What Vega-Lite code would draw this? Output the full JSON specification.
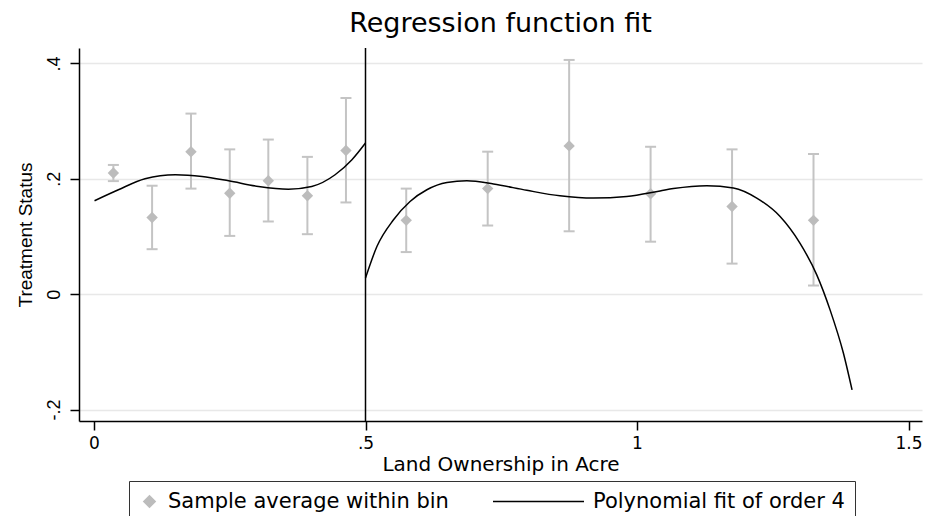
{
  "$schema": "https://vega.github.io/schema/vega-lite/v6.json",
  "width": 843,
  "height": 373,
  "autosize": {"type": "none"},
  "padding": {"left": 79, "top": 48, "right": 12, "bottom": 95},
  "background": "white",
  "title": {"text": "Regression function fit", "font": "DejaVu Sans", "fontSize": 27, "fontWeight": "normal", "color": "black", "anchor": "middle", "baseline": "alphabetic", "offset": 16, "dy": 28},
  "config": {
    "view": {"stroke": null},
    "axis": {"domainColor": "black", "domainWidth": 1.5, "tickColor": "black", "tickWidth": 1.5, "tickSize": 9, "labelColor": "black", "titleColor": "black", "titleFontWeight": "normal", "gridColor": "#e8e8e8", "gridWidth": 1.5},
    "axisX": {"grid": false, "labelFont": "DejaVu Sans", "labelFontSize": 17, "labelPadding": 5, "titleFont": "DejaVu Sans", "titleFontSize": 20, "titlePadding": 3},
    "axisY": {"grid": true, "labelAngle": -90, "labelAlign": "center", "labelBaseline": "alphabetic", "labelPadding": 11, "labelFont": "Liberation Sans", "labelFontSize": 18, "titleFont": "Liberation Sans", "titleFontSize": 19, "titlePadding": 10},
    "legend": {
      "title": null, "orient": "none", "legendX": 50, "legendY": 433, "direction": "horizontal",
      "padding": 10, "strokeColor": "#333333", "labelFont": "DejaVu Sans", "labelFontSize": 21,
      "labelColor": "black", "labelLimit": 500, "columnPadding": 43, "symbolOffset": 0, "labelOffset": 8,
      "symbolStrokeWidth": 1.5, "clipHeight": 21
    }
  },
  "datasets": {
    "bins": [
      {"x": 0.0357, "mean": 0.210, "lo": 0.196, "hi": 0.224, "series": "Sample average within bin"},
      {"x": 0.107, "mean": 0.133, "lo": 0.078, "hi": 0.188, "series": "Sample average within bin"},
      {"x": 0.1786, "mean": 0.247, "lo": 0.183, "hi": 0.313, "series": "Sample average within bin"},
      {"x": 0.25, "mean": 0.175, "lo": 0.101, "hi": 0.251, "series": "Sample average within bin"},
      {"x": 0.321, "mean": 0.1965, "lo": 0.126, "hi": 0.268, "series": "Sample average within bin"},
      {"x": 0.393, "mean": 0.1705, "lo": 0.104, "hi": 0.238, "series": "Sample average within bin"},
      {"x": 0.464, "mean": 0.249, "lo": 0.159, "hi": 0.340, "series": "Sample average within bin"},
      {"x": 0.575, "mean": 0.128, "lo": 0.073, "hi": 0.183, "series": "Sample average within bin"},
      {"x": 0.725, "mean": 0.183, "lo": 0.119, "hi": 0.247, "series": "Sample average within bin"},
      {"x": 0.875, "mean": 0.257, "lo": 0.109, "hi": 0.406, "series": "Sample average within bin"},
      {"x": 1.025, "mean": 0.174, "lo": 0.091, "hi": 0.2555, "series": "Sample average within bin"},
      {"x": 1.175, "mean": 0.152, "lo": 0.053, "hi": 0.251, "series": "Sample average within bin"},
      {"x": 1.325, "mean": 0.128, "lo": 0.015, "hi": 0.243, "series": "Sample average within bin"}
    ],
    "fit": [
      {"seg": "L", "x": 0.001, "y": 0.162, "series": "Polynomial fit of order 4"},
      {"seg": "L", "x": 0.045, "y": 0.181, "series": "Polynomial fit of order 4"},
      {"seg": "L", "x": 0.094, "y": 0.200, "series": "Polynomial fit of order 4"},
      {"seg": "L", "x": 0.150, "y": 0.207, "series": "Polynomial fit of order 4"},
      {"seg": "L", "x": 0.199, "y": 0.204, "series": "Polynomial fit of order 4"},
      {"seg": "L", "x": 0.248, "y": 0.1965, "series": "Polynomial fit of order 4"},
      {"seg": "L", "x": 0.303, "y": 0.1867, "series": "Polynomial fit of order 4"},
      {"seg": "L", "x": 0.358, "y": 0.182, "series": "Polynomial fit of order 4"},
      {"seg": "L", "x": 0.401, "y": 0.1867, "series": "Polynomial fit of order 4"},
      {"seg": "L", "x": 0.444, "y": 0.207, "series": "Polynomial fit of order 4"},
      {"seg": "L", "x": 0.475, "y": 0.233, "series": "Polynomial fit of order 4"},
      {"seg": "L", "x": 0.5, "y": 0.262, "series": "Polynomial fit of order 4"},
      {"seg": "R", "x": 0.5, "y": 0.028, "series": "Polynomial fit of order 4"},
      {"seg": "R", "x": 0.521, "y": 0.0826, "series": "Polynomial fit of order 4"},
      {"seg": "R", "x": 0.5516, "y": 0.129, "series": "Polynomial fit of order 4"},
      {"seg": "R", "x": 0.582, "y": 0.1607, "series": "Polynomial fit of order 4"},
      {"seg": "R", "x": 0.613, "y": 0.181, "series": "Polynomial fit of order 4"},
      {"seg": "R", "x": 0.650, "y": 0.1936, "series": "Polynomial fit of order 4"},
      {"seg": "R", "x": 0.6867, "y": 0.1965, "series": "Polynomial fit of order 4"},
      {"seg": "R", "x": 0.7357, "y": 0.191, "series": "Polynomial fit of order 4"},
      {"seg": "R", "x": 0.797, "y": 0.180, "series": "Polynomial fit of order 4"},
      {"seg": "R", "x": 0.858, "y": 0.1705, "series": "Polynomial fit of order 4"},
      {"seg": "R", "x": 0.9197, "y": 0.1665, "series": "Polynomial fit of order 4"},
      {"seg": "R", "x": 0.981, "y": 0.1695, "series": "Polynomial fit of order 4"},
      {"seg": "R", "x": 1.0425, "y": 0.179, "series": "Polynomial fit of order 4"},
      {"seg": "R", "x": 1.067, "y": 0.183, "series": "Polynomial fit of order 4"},
      {"seg": "R", "x": 1.1285, "y": 0.188, "series": "Polynomial fit of order 4"},
      {"seg": "R", "x": 1.1775, "y": 0.184, "series": "Polynomial fit of order 4"},
      {"seg": "R", "x": 1.2205, "y": 0.1665, "series": "Polynomial fit of order 4"},
      {"seg": "R", "x": 1.2635, "y": 0.1346, "series": "Polynomial fit of order 4"},
      {"seg": "R", "x": 1.300, "y": 0.0885, "series": "Polynomial fit of order 4"},
      {"seg": "R", "x": 1.331, "y": 0.0335, "series": "Polynomial fit of order 4"},
      {"seg": "R", "x": 1.3555, "y": -0.0272, "series": "Polynomial fit of order 4"},
      {"seg": "R", "x": 1.380, "y": -0.102, "series": "Polynomial fit of order 4"},
      {"seg": "R", "x": 1.396, "y": -0.166, "series": "Polynomial fit of order 4"}
    ],
    "cut": [{"x": 0.5}]
  },
  "layer": [
    {
      "data": {"name": "bins"},
      "mark": {"type": "rule", "color": "#c4c4c4", "strokeWidth": 2},
      "encoding": {
        "x": {"field": "x", "type": "quantitative", "title": "Land Ownership in Acre",
              "scale": {"domain": [-0.0276, 1.5248], "nice": false, "zero": false},
              "axis": {"values": [0, 0.5, 1, 1.5], "labelExpr": "datum.value == 0.5 ? '.5' : datum.value == 1.5 ? '1.5' : datum.value == 1 ? '1' : '0'"}},
        "y": {"field": "lo", "type": "quantitative", "title": "Treatment Status",
              "scale": {"domain": [-0.2198, 0.4267], "nice": false, "zero": false},
              "axis": {"values": [-0.2, 0, 0.2, 0.4], "labelExpr": "datum.value == 0.4 ? '.4' : datum.value == 0.2 ? '.2' : datum.value == -0.2 ? '-.2' : '0'"}},
        "y2": {"field": "hi"}
      }
    },
    {
      "data": {"name": "bins"},
      "mark": {"type": "tick", "orient": "horizontal", "color": "#c4c4c4", "size": 11, "thickness": 2, "opacity": 1},
      "encoding": {
        "x": {"field": "x", "type": "quantitative", "title": "Land Ownership in Acre"},
        "y": {"field": "lo", "type": "quantitative", "title": "Treatment Status"}
      }
    },
    {
      "data": {"name": "bins"},
      "mark": {"type": "tick", "orient": "horizontal", "color": "#c4c4c4", "size": 11, "thickness": 2, "opacity": 1},
      "encoding": {
        "x": {"field": "x", "type": "quantitative", "title": "Land Ownership in Acre"},
        "y": {"field": "hi", "type": "quantitative", "title": "Treatment Status"}
      }
    },
    {
      "data": {"name": "bins"},
      "mark": {"type": "point", "filled": true, "opacity": 1},
      "encoding": {
        "x": {"field": "x", "type": "quantitative", "title": "Land Ownership in Acre"},
        "y": {"field": "mean", "type": "quantitative", "title": "Treatment Status"},
        "color": {"field": "series", "type": "nominal", "title": null,
          "scale": {"domain": ["Sample average within bin", "Polynomial fit of order 4"], "range": ["#bcbcbc", "#000000"]}},
        "shape": {"field": "series", "type": "nominal", "title": null,
          "scale": {"domain": ["Sample average within bin", "Polynomial fit of order 4"], "range": ["diamond", "stroke"]}},
        "size": {"field": "series", "type": "ordinal", "title": null,
          "scale": {"type": "point", "domain": ["Sample average within bin", "Polynomial fit of order 4"], "range": [130, 8281], "padding": 0}}
      }
    },
    {
      "data": {"name": "fit"},
      "mark": {"type": "line", "strokeWidth": 1.5, "interpolate": "monotone"},
      "encoding": {
        "x": {"field": "x", "type": "quantitative", "title": "Land Ownership in Acre"},
        "y": {"field": "y", "type": "quantitative", "title": "Treatment Status"},
        "detail": {"field": "seg", "type": "nominal"},
        "color": {"field": "series", "type": "nominal", "title": null}
      }
    },
    {
      "data": {"name": "cut"},
      "mark": {"type": "rule", "color": "black", "strokeWidth": 1.5},
      "encoding": {
        "x": {"field": "x", "type": "quantitative", "title": "Land Ownership in Acre"}
      }
    }
  ]
}
